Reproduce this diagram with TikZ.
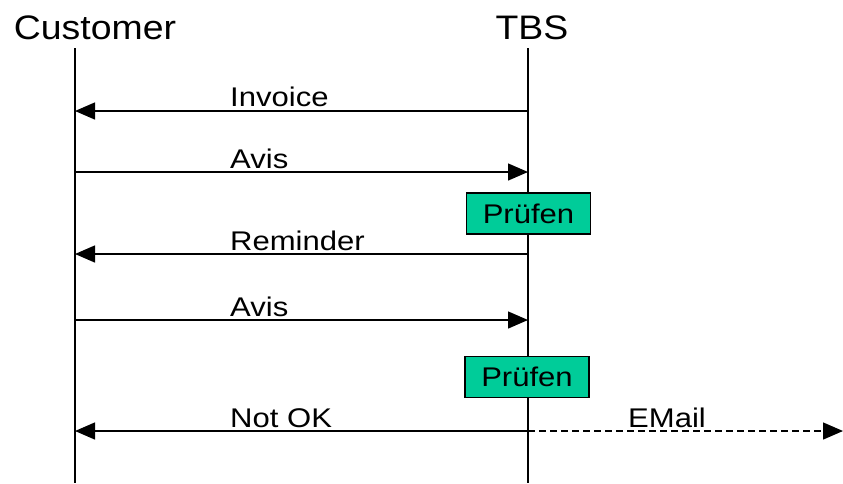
\documentclass[tikz,border=0pt]{standalone}
\usepackage{fontspec}
\setmainfont{Liberation Sans}
\newfontfamily\lblfont[FakeStretch=1.15]{Liberation Sans}
\newfontfamily\hdfont[FakeStretch=1.1]{Liberation Sans}
\usetikzlibrary{arrows.meta}
\begin{document}
\begin{tikzpicture}[x=1pt,y=-1pt,
  head/.style={inner sep=0pt,anchor=base,font=\hdfont\fontsize{34}{38}\selectfont},
  msg/.style={inner sep=0pt,anchor=base west,font=\lblfont\fontsize{27}{30}\selectfont},
  life/.style={line width=1.4pt},
  arr/.style={line width=1.4pt,-{Triangle[length=20pt,width=17pt]}},
  checkbox/.style={draw,line width=1.2pt,fill=checkgreen,minimum width=124pt,minimum height=41pt,inner sep=0pt,font=\lblfont\fontsize{27}{30}\selectfont}]
\definecolor{checkgreen}{HTML}{00CC99}
\useasboundingbox (0,0) rectangle (843,483);
\node[head] (cust) at (95,39) {Customer};
\node[head] (tbs) at (532,39) {TBS};
\coordinate (ctop) at (75,48);
\coordinate (cbot) at (75,483);
\coordinate (ttop) at (528,48);
\coordinate (tbot) at (528,483);
\draw[life] (ctop) -- (cbot);
\draw[life] (ttop) -- (tbot);
% messages
\coordinate (t1) at (528,111); \coordinate (c1) at (75,111);
\draw[arr] (t1) -- (c1);
\node[msg] (l1) at (230,106) {Invoice};
\coordinate (c2) at (75,172); \coordinate (t2) at (528,172);
\draw[arr] (c2) -- (t2);
\node[msg] (l2) at (230,168) {Avis};
\node[checkbox] (p1) at (528.5,213.5) {Prüfen};
\coordinate (t3) at (528,254); \coordinate (c3) at (75,254);
\draw[arr] (t3) -- (c3);
\node[msg] (l3) at (230,250) {Reminder};
\coordinate (c4) at (75,320); \coordinate (t4) at (528,320);
\draw[arr] (c4) -- (t4);
\node[msg] (l4) at (230,316) {Avis};
\node[checkbox] (p2) at (527,377) {Prüfen};
\coordinate (t5) at (528,431); \coordinate (c5) at (75,431);
\draw[arr] (t5) -- (c5);
\node[msg] (l5) at (230,427) {Not OK};
\coordinate (e5) at (843,431);
\draw[arr,dashed,dash pattern=on 7pt off 4pt] (t5) -- (e5);
\node[msg] (l6) at (628,427) {EMail};
\end{tikzpicture}
\end{document}
